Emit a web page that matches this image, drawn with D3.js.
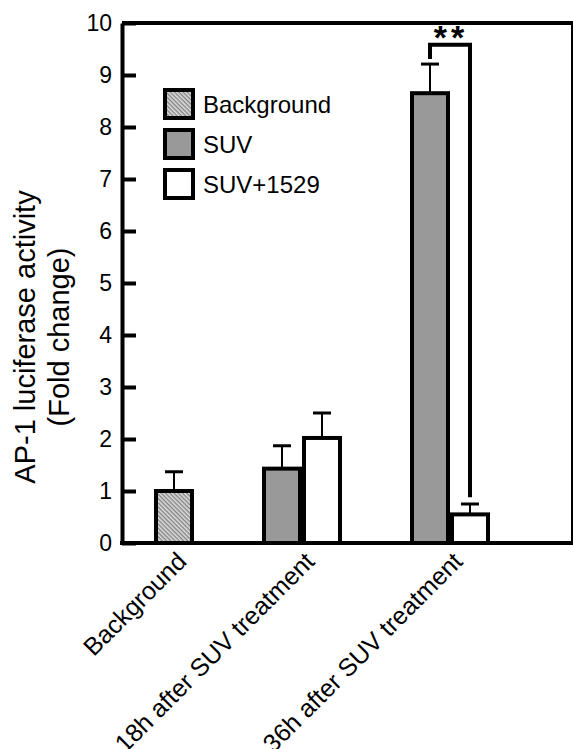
<!DOCTYPE html>
<html>
<head>
<meta charset="utf-8">
<script src="https://cdn.jsdelivr.net/npm/d3@7"></script>
<style>
  body { margin: 0; background: #fff; }
  text { font-family: "Liberation Sans", Arial, sans-serif; fill: #000; }
</style>
</head>
<body>
<svg id="chart" width="573" height="749"></svg>
<script>
// categories on the x axis
const groups = ["Background", "18h after SUV treatment", "36h after SUV treatment"];
// legend / series names
const seriesNames = ["Background", "SUV", "SUV+1529"];
// bar heights per group (null = no bar in that group)
const backgroundMean = [1.0, null, null];
const suvMean = [null, 1.43, 8.65];
const suv1529Mean = [null, 2.02, 0.55];
// upper error (SD)
const backgroundErr = [0.37, null, null];
const suvErr = [null, 0.44, 0.56];
const suv1529Err = [null, 0.48, 0.2];
// y ticks
const yTicks = [0, 1, 2, 3, 4, 5, 6, 7, 8, 9, 10];
// significance: group, from series, to series, label
const sig = { group: 2, from: 1, to: 2, label: "**", top: 9.58, leftEnd: 9.31, rightEnd: 0.88 };

const svg = d3.select("#chart");
const W = 573;
const margin = { left: 122, right: 1, top: 23 };
const plotW = W - margin.left - margin.right;
const plotBottom = 543;

// fills per series
const defs = svg.append("defs");
const pat = defs.append("pattern")
  .attr("id", "hatch")
  .attr("patternUnits", "userSpaceOnUse")
  .attr("width", 3)
  .attr("height", 3)
  .attr("patternTransform", "rotate(45)");
pat.append("rect").attr("width", 3).attr("height", 3).attr("fill", "#dedede");
pat.append("rect").attr("width", 3).attr("height", 1.4).attr("fill", "#838383");
const fills = ["url(#hatch)", "#999999", "#ffffff"];

// build bars from the series arrays
const allMeans = [backgroundMean, suvMean, suv1529Mean];
const allErrs = [backgroundErr, suvErr, suv1529Err];
const bars = [];
groups.forEach((g, gi) => {
  allMeans.forEach((m, si) => {
    if (m[gi] != null) bars.push({ group: gi, series: si, mean: m[gi], err: allErrs[si][gi] });
  });
});

// x layout in "bar slots": each group as wide as its bar count, fixed gap between groups
const barsPerGroup = groups.map((g, gi) => bars.filter(b => b.group === gi).length);
const startOffset = 0.8, groupGap = 1.7;
const groupStart = [];
let acc = startOffset;
barsPerGroup.forEach(n => { groupStart.push(acc); acc += n + groupGap; });
const x = d3.scaleLinear().domain([0, 11.25]).range([margin.left, margin.left + plotW]);
const y = d3.scaleLinear().domain([0, 10]).range([plotBottom, margin.top]);

bars.forEach(b => {
  const idx = bars.filter(o => o.group === b.group && o.series < b.series).length;
  b.x0 = groupStart[b.group] + idx;
});
const groupCenter = groupStart.map((s, i) => s + barsPerGroup[i] / 2);

// frame: thin right side, thick top
svg.append("line")
  .attr("x1", x(11.25)).attr("x2", x(11.25))
  .attr("y1", y(10)).attr("y2", y(0))
  .attr("stroke", "#000").attr("stroke-width", 2);
svg.append("line")
  .attr("x1", x(0)).attr("x2", x(11.25) + 1)
  .attr("y1", y(10)).attr("y2", y(10))
  .attr("stroke", "#000").attr("stroke-width", 4);

// error bars (upper only)
const eb = svg.append("g");
bars.forEach(b => {
  const cx = x(b.x0 + 0.5);
  eb.append("line")
    .attr("x1", cx).attr("x2", cx)
    .attr("y1", y(b.mean)).attr("y2", y(b.mean + b.err))
    .attr("stroke", "#000").attr("stroke-width", 2);
  eb.append("line")
    .attr("x1", cx - 9).attr("x2", cx + 9)
    .attr("y1", y(b.mean + b.err)).attr("y2", y(b.mean + b.err))
    .attr("stroke", "#000").attr("stroke-width", 3);
});

// bars
svg.append("g").selectAll("rect")
  .data(bars)
  .join("rect")
  .attr("x", d => x(d.x0) + 2)
  .attr("y", d => y(d.mean))
  .attr("width", d => x(d.x0 + 1) - x(d.x0) - 4)
  .attr("height", d => y(0) - y(d.mean))
  .attr("fill", d => fills[d.series])
  .attr("stroke", "#000")
  .attr("stroke-width", 4);

// y axis with inward ticks
const yAxis = svg.append("g")
  .attr("transform", `translate(${x(0)},0)`)
  .call(d3.axisLeft(y).tickValues(yTicks).tickSizeInner(-14).tickSizeOuter(0).tickPadding(10));
yAxis.select(".domain").attr("stroke", "#000").attr("stroke-width", 4);
yAxis.selectAll(".tick line").attr("stroke", "#000").attr("stroke-width", 4);
yAxis.selectAll(".tick text")
  .attr("font-size", 23)
  .attr("font-family", "Liberation Sans, Arial, sans-serif")
  .attr("fill", "#000");

// x axis baseline
svg.append("line")
  .attr("x1", x(0) - 2).attr("x2", x(11.25) + 1)
  .attr("y1", y(0)).attr("y2", y(0))
  .attr("stroke", "#000").attr("stroke-width", 4);

// x labels rotated
svg.append("g").selectAll("text")
  .data(groups)
  .join("text")
  .attr("transform", (d, i) => `translate(${x(groupCenter[i]) + 14},${plotBottom + 20}) rotate(-45)`)
  .attr("text-anchor", "end")
  .attr("font-size", 25)
  .text(d => d);

// y title
const yt = svg.append("text")
  .attr("transform", `translate(35,${(margin.top + plotBottom) / 2 + 54}) rotate(-90)`)
  .attr("text-anchor", "middle")
  .attr("font-size", 29);
yt.append("tspan").attr("x", 0).attr("dy", 0).text("AP-1 luciferase activity");
yt.append("tspan").attr("x", 0).attr("dy", 34).text("(Fold change)");

// significance bracket
const sBars = bars.filter(b => b.group === sig.group);
const lx = x(sBars.find(b => b.series === sig.from).x0 + 0.5);
const rx = x(sBars.find(b => b.series === sig.to).x0 + 0.5);
svg.append("path")
  .attr("d", `M${lx},${y(sig.leftEnd)} V${y(sig.top)} H${rx} V${y(sig.rightEnd)}`)
  .attr("fill", "none")
  .attr("stroke", "#000")
  .attr("stroke-width", 4);
svg.append("text")
  .attr("x", (lx + rx) / 2 + 1)
  .attr("y", y(sig.top) + 4)
  .attr("text-anchor", "middle")
  .attr("font-size", 34)
  .attr("font-weight", "bold")
  .attr("letter-spacing", 4)
  .text(sig.label);

// legend
const lg = svg.append("g").attr("transform", "translate(165,90)");
seriesNames.forEach((n, i) => {
  lg.append("rect")
    .attr("x", 0).attr("y", i * 40)
    .attr("width", 28).attr("height", 28)
    .attr("fill", fills[i])
    .attr("stroke", "#000")
    .attr("stroke-width", 4);
  lg.append("text")
    .attr("x", 38).attr("y", i * 40 + 23)
    .attr("font-size", 24)
    .text(n);
});
</script>
</body>
</html>
